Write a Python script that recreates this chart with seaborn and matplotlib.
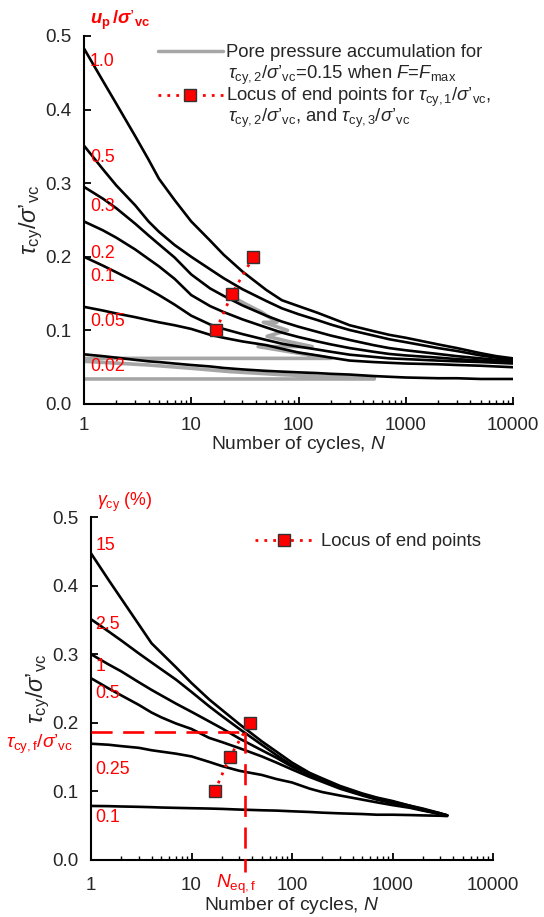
import numpy as np
import pandas as pd
import matplotlib
matplotlib.use("Agg")
import matplotlib.pyplot as plt
from matplotlib.lines import Line2D
from matplotlib.ticker import FixedLocator, NullFormatter, LogLocator
import seaborn as sns

# ---------------- data ----------------
# Upper panel: contours of normalised pore pressure u_p/sigma'_vc
N_UP = [1, 1.5, 2, 3, 4, 5, 7, 10, 15, 20, 30, 50, 70, 100, 150, 200, 300, 500, 700,
        1000, 2000, 3000, 5000, 7000, 10000]
UP_LABELS = ["1.0", "0.5", "0.3", "0.2", "0.1", "0.05", "0.02"]
UP_1_0 = [0.483, 0.439, 0.408, 0.364, 0.332, 0.306, 0.277, 0.248, 0.222, 0.203, 0.180, 0.155,
          0.141, 0.133, 0.124, 0.117, 0.107, 0.099, 0.094, 0.090, 0.081, 0.076, 0.069, 0.065, 0.062]
UP_0_5 = [0.351, 0.319, 0.297, 0.270, 0.248, 0.234, 0.216, 0.200, 0.183, 0.171, 0.156, 0.140,
          0.130, 0.122, 0.114, 0.108, 0.1005, 0.093, 0.088, 0.084, 0.076, 0.072, 0.066, 0.063, 0.060]
UP_0_3 = [0.295, 0.279, 0.266, 0.245, 0.229, 0.217, 0.199, 0.176, 0.157, 0.147, 0.134, 0.120,
          0.112, 0.105, 0.098, 0.093, 0.087, 0.080, 0.076, 0.073, 0.068, 0.065, 0.062, 0.060, 0.058]
UP_0_2 = [0.248, 0.236, 0.226, 0.210, 0.197, 0.187, 0.170, 0.148, 0.133, 0.125, 0.115, 0.104,
          0.097, 0.091, 0.085, 0.081, 0.076, 0.071, 0.068, 0.066, 0.063, 0.061, 0.059, 0.058, 0.057]
UP_0_1 = [0.200, 0.188, 0.179, 0.166, 0.156, 0.148, 0.135, 0.120, 0.108, 0.102, 0.095, 0.087,
          0.082, 0.078, 0.074, 0.071, 0.067, 0.064, 0.062, 0.061, 0.059, 0.058, 0.057, 0.056, 0.055]
UP_0_05 = [0.132, 0.127, 0.123, 0.118, 0.114, 0.111, 0.107, 0.102, 0.094, 0.090, 0.085, 0.080,
           0.075, 0.070, 0.066, 0.063, 0.059, 0.057, 0.056, 0.055, 0.054, 0.053, 0.052, 0.051, 0.050]
UP_0_02 = [0.0675, 0.065, 0.063, 0.060, 0.058, 0.057, 0.055, 0.053, 0.051, 0.049, 0.047, 0.045,
           0.044, 0.043, 0.042, 0.041, 0.040, 0.038, 0.037, 0.036, 0.035, 0.035, 0.034, 0.034, 0.034]
UP_LABEL_Y = [0.465, 0.335, 0.268, 0.205, 0.173, 0.112, 0.051]

# Pore pressure accumulation path for tau_cy,2/sigma'_vc = 0.15 (one continuous path)
ACC_N = [24.5, 33, 45, 63, 47, 60, 79, 51, 80, 134, 42, 100, 201, 1, 1, 4, 10, 23, 67,
         200, 509, 509, 1]
ACC_V = [0.145, 0.135, 0.125, 0.111, 0.111, 0.106, 0.100, 0.092, 0.085, 0.078, 0.078, 0.069,
         0.062, 0.062, 0.058, 0.053, 0.0485, 0.044, 0.040, 0.037, 0.036, 0.034, 0.034]

# End points of tau_cy,1 / tau_cy,2 / tau_cy,3
END_N = [17, 24, 38]
END_TAU = [0.10, 0.15, 0.20]

# Lower panel: contours of cyclic shear strain gamma_cy (%)
N_GC = [1, 1.5, 2, 3, 4, 5, 7, 10, 15, 20, 30, 50, 70, 100, 150, 200, 300, 500, 700,
        1000, 1500, 2000, 3000, 3500]
GC_LABELS = ["15", "2.5", "1", "0.5", "0.25", "0.1"]
GC_15 = [0.447, 0.408, 0.381, 0.343, 0.316, 0.302, 0.281, 0.258, 0.234, 0.219, 0.198, 0.173,
         0.158, 0.142, 0.127, 0.119, 0.108, 0.097, 0.091, 0.086, 0.079, 0.075, 0.068, 0.065]
GC_2_5 = [0.351, 0.333, 0.320, 0.301, 0.288, 0.278, 0.263, 0.245, 0.224, 0.210, 0.191, 0.168,
          0.153, 0.138, 0.125, 0.117, 0.106, 0.096, 0.090, 0.085, 0.079, 0.074, 0.068, 0.065]
GC_1 = [0.300, 0.285, 0.275, 0.259, 0.248, 0.240, 0.228, 0.216, 0.202, 0.192, 0.177, 0.160,
        0.149, 0.136, 0.124, 0.116, 0.105, 0.095, 0.089, 0.084, 0.078, 0.073, 0.067, 0.065]
GC_0_5 = [0.265, 0.250, 0.240, 0.226, 0.215, 0.208, 0.199, 0.191, 0.178, 0.172, 0.163, 0.151,
          0.142, 0.132, 0.121, 0.114, 0.104, 0.094, 0.088, 0.083, 0.077, 0.073, 0.067, 0.065]
GC_0_25 = [0.1695, 0.168, 0.166, 0.1635, 0.160, 0.158, 0.155, 0.151, 0.143, 0.137, 0.130, 0.124,
           0.118, 0.113, 0.104, 0.099, 0.094, 0.088, 0.084, 0.080, 0.076, 0.072, 0.067, 0.065]
GC_0_1 = [0.0788, 0.0785, 0.078, 0.0775, 0.077, 0.0765, 0.076, 0.0755, 0.075, 0.0745, 0.0735,
          0.0725, 0.072, 0.071, 0.070, 0.069, 0.068, 0.067, 0.066, 0.066, 0.0655, 0.065, 0.0645, 0.064]
GC_LABEL_Y = [0.458, 0.344, 0.282, 0.243, 0.1325, 0.0626]

# Failure point
TAU_F = 0.186
N_EQ_F = 34.2

X_TICKS = [1, 10, 100, 1000, 10000]
X_TICK_LABELS = ["1", "10", "100", "1000", "10000"]
Y_TICKS = [0.0, 0.1, 0.2, 0.3, 0.4, 0.5]

# ---------------- style ----------------
sns.set_style("ticks")
plt.rcParams["font.family"] = ["Liberation Sans", "DejaVu Sans"]
plt.rcParams["mathtext.fontset"] = "custom"
plt.rcParams["mathtext.rm"] = "Liberation Sans"
plt.rcParams["mathtext.it"] = "Liberation Sans:italic"
plt.rcParams["mathtext.bf"] = "Liberation Sans:bold"
plt.rcParams["mathtext.bfit"] = "Liberation Sans:italic:bold"
FS_TICK = 13.6
FS_LAB = 13.9
FS_LEG = 13.3
FS_RED = 12.8
RED = "#FF0000"
GRAY = "#A6A6A6"

TAU_SIG = r"$\tau_{\mathrm{cy}}/\sigma’_{\mathrm{vc}}$"


def long_frame(n, series, labels):
    rows = []
    for lab, vals in zip(labels, series):
        for x, y in zip(n, vals):
            rows.append({"N": x, "tau": y, "curve": lab})
    return pd.DataFrame(rows)


def style_axes(ax, xpad, xlabelpad):
    ax.set_xscale("log")
    ax.set_xlim(1, 10000)
    ax.set_ylim(0, 0.5)
    for s in ["top", "right"]:
        ax.spines[s].set_visible(False)
    for s in ["left", "bottom"]:
        ax.spines[s].set_linewidth(1.5)
        ax.spines[s].set_color("black")
    ax.xaxis.set_major_locator(FixedLocator(X_TICKS))
    ax.set_xticklabels(X_TICK_LABELS)
    ax.xaxis.set_minor_locator(LogLocator(base=10, subs=np.arange(2, 10)))
    ax.xaxis.set_minor_formatter(NullFormatter())
    ax.set_yticks(Y_TICKS)
    ax.set_yticklabels([f"{v:.1f}" for v in Y_TICKS])
    ax.tick_params(which="major", direction="in", length=5, width=1.3,
                   labelsize=FS_TICK, color="black")
    ax.tick_params(which="minor", direction="in", length=3, width=1.0, color="black")
    ax.tick_params(axis="x", which="major", pad=xpad)
    ax.tick_params(axis="y", which="major", pad=9)
    ax.set_xlabel("Number of cycles, $\\mathit{N}$", fontsize=FS_LAB, labelpad=xlabelpad)
    ax.set_ylabel(TAU_SIG, fontsize=17, labelpad=0)
    ax.grid(False)


fig = plt.figure(figsize=(5.44, 9.17), dpi=100)
ax1 = fig.add_axes([84 / 544, 1 - 404 / 917, 429 / 544, 368 / 917])
ax2 = fig.add_axes([91 / 544, 1 - 860 / 917, 402 / 544, 343 / 917])

locus_kw = dict(color=RED, lw=2, ls=(0, (1, 2.2)), marker="s", markersize=8,
                markerfacecolor=RED, markeredgecolor="#333333", markeredgewidth=1)

# ---------------- upper panel ----------------
df_up = long_frame(N_UP, [UP_1_0, UP_0_5, UP_0_3, UP_0_2, UP_0_1, UP_0_05, UP_0_02], UP_LABELS)
sns.lineplot(x=ACC_N, y=ACC_V, ax=ax1, color=GRAY, lw=2.6, estimator=None, sort=False, zorder=2)
sns.lineplot(data=df_up, x="N", y="tau", units="curve", estimator=None, ax=ax1,
             color="black", lw=1.9, zorder=3, legend=False)
sns.lineplot(x=END_N, y=END_TAU, ax=ax1, estimator=None, zorder=5, **locus_kw)
for lab, yv in zip(UP_LABELS, UP_LABEL_Y):
    ax1.text(1.14, yv, lab, color=RED, fontsize=FS_RED, ha="left", va="center", zorder=6)
ax1.text(0.014, 1.043, r"$\mathbfit{u}_{\mathbf{p}}\,\mathbf{/}\mathbfit{\sigma}’_{\mathbf{vc}}$",
         transform=ax1.transAxes, color=RED, fontsize=FS_RED + 0.5, ha="left", va="center")
style_axes(ax1, xpad=9, xlabelpad=0.5)

# two legend entries, each followed by a continuation line of its label
leg_a = ax1.legend([Line2D([], [], color=GRAY, lw=2.5)], ["Pore pressure accumulation for"],
                   loc="center left", bbox_to_anchor=(0.1725, 0.954), frameon=False,
                   fontsize=FS_LEG, handlelength=3.5, handletextpad=0.2, borderpad=0,
                   borderaxespad=0)
ax1.add_artist(leg_a)
ax1.legend([Line2D([], [], **locus_kw)],
           [r"Locus of end points for $\tau_{\mathrm{cy,1}}/\sigma’_{\mathrm{vc}}$,"],
           loc="center left", bbox_to_anchor=(0.1725, 0.832), frameon=False,
           fontsize=FS_LEG, handlelength=3.5, handletextpad=0.2, borderpad=0,
           borderaxespad=0, numpoints=1)
ax1.text(0.336, 0.892,
         r"$\tau_{\mathrm{cy,2}}/\sigma’_{\mathrm{vc}}$=0.15 when $\mathit{F}$=$\mathit{F}_{\mathrm{max}}$",
         transform=ax1.transAxes, fontsize=FS_LEG, ha="left", va="center")
ax1.text(0.336, 0.775,
         r"$\tau_{\mathrm{cy,2}}/\sigma’_{\mathrm{vc}}$, and $\tau_{\mathrm{cy,3}}/\sigma’_{\mathrm{vc}}$",
         transform=ax1.transAxes, fontsize=FS_LEG, ha="left", va="center")

# ---------------- lower panel ----------------
df_gc = long_frame(N_GC, [GC_15, GC_2_5, GC_1, GC_0_5, GC_0_25, GC_0_1], GC_LABELS)
sns.lineplot(data=df_gc, x="N", y="tau", units="curve", estimator=None, ax=ax2,
             color="black", lw=1.9, zorder=3, legend=False)
sns.lineplot(x=END_N, y=END_TAU, ax=ax2, estimator=None, zorder=5, **locus_kw)
ax2.plot([1, N_EQ_F], [TAU_F, TAU_F], color=RED, lw=1.9, dashes=(8, 4), zorder=4)
ax2.plot([N_EQ_F, N_EQ_F], [TAU_F, -0.017], color=RED, lw=1.9, dashes=(8, 4),
         zorder=4, clip_on=False)
for lab, yv in zip(GC_LABELS, GC_LABEL_Y):
    ax2.text(1.1, yv, lab, color=RED, fontsize=FS_RED, ha="left", va="center", zorder=6)
ax2.text(0.014, 1.042, r"$\gamma_{\mathrm{cy}}$ (%)", transform=ax2.transAxes,
         color=RED, fontsize=FS_RED, ha="left", va="center")
ax2.text(-0.045, 0.168, r"$\tau_{\mathrm{cy,f}}/\sigma’_{\mathrm{vc}}$", color=RED,
         fontsize=FS_RED + 1, ha="right", va="center",
         transform=ax2.get_yaxis_transform())
ax2.text(28, -0.036, r"$\mathit{N}_{\mathrm{eq,f}}$", color=RED, fontsize=FS_RED + 1,
         ha="center", va="center", clip_on=False)
style_axes(ax2, xpad=12, xlabelpad=1)

ax2.legend([Line2D([], [], **locus_kw)], ["Locus of end points"], loc="center left",
           bbox_to_anchor=(0.408, 0.928), frameon=False, fontsize=FS_LEG, handlelength=3.1,
           handletextpad=0.45, borderpad=0, borderaxespad=0, numpoints=1)

fig.savefig("out.png", dpi=100)
